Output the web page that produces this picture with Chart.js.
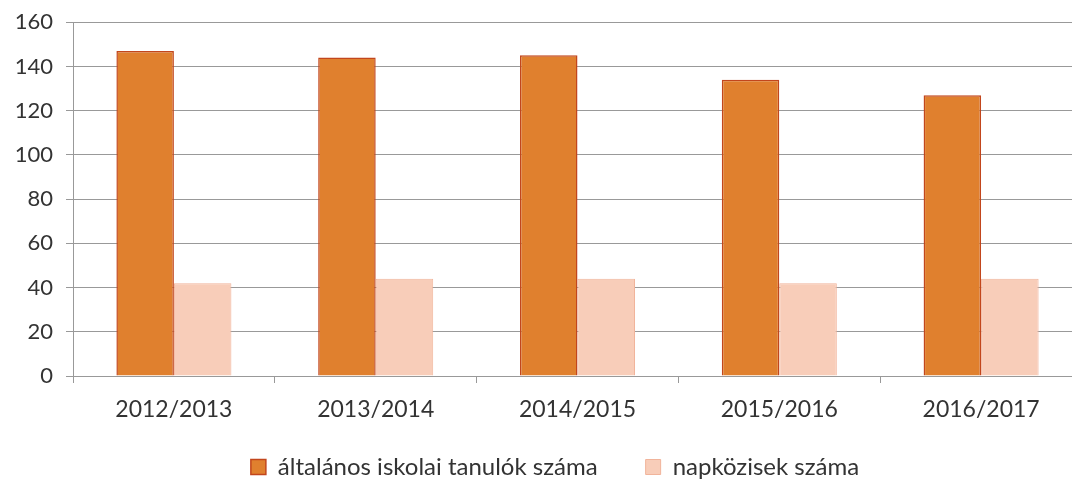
<!DOCTYPE html>
<html>
<head>
<meta charset="utf-8">
<script src="https://cdn.jsdelivr.net/npm/chart.js@4"></script>
<style>
    html, body { margin: 0; padding: 0; background: #fff; overflow: hidden; }
    #wrap { width: 1082px; height: 512px; position: relative; margin-top: -4px; }
</style>
</head>
<body>
<div id="wrap"><canvas id="chart"></canvas></div>
<script>
// tanévek
const categories = ['2012/2013', '2013/2014', '2014/2015', '2015/2016', '2016/2017'];
// általános iskolai tanulók száma
const pupils = [147, 144, 145, 134, 127];
// napközisek száma
const dayCare = [42, 44, 44, 42, 44];
const yTicks = [0, 20, 40, 60, 80, 100, 120, 140, 160];

const seriesNames = ['általános iskolai tanulók száma', 'napközisek száma'];
const fontFamily = 'Lato, "Open Sans", sans-serif';
const textColor = '#333333';
const lineColor = '#999999';

Chart.defaults.font.family = fontFamily;
Chart.defaults.color = textColor;

// a jelmagyarázatot kicsit jobbra és feljebb toljuk
const legendShift = {
    id: 'legendShift',
    afterLayout(chart) {
        const lg = chart.legend;
        lg.left += 14;
        lg.right += 14;
        lg.top -= 19;
        lg.bottom -= 19;
    }
};

const ctx = document.getElementById('chart').getContext('2d');
new Chart(ctx, {
    type: 'bar',
    data: {
        labels: categories,
        datasets: [{
            label: seriesNames[0],
            data: pupils,
            backgroundColor: '#e0802e',
            borderColor: '#c2461c',
            borderWidth: 1.5,
            borderSkipped: 'bottom'
        }, {
            label: seriesNames[1],
            data: dayCare,
            backgroundColor: '#f8cdb9',
            borderColor: '#f1b49b',
            borderWidth: 1,
            borderSkipped: 'bottom'
        }]
    },
    plugins: [legendShift],
    options: {
        responsive: true,
        maintainAspectRatio: false,
        animation: false,
        layout: {
            padding: { top: 13, left: 0, right: 0, bottom: 0 }
        },
        datasets: {
            bar: {
                categoryPercentage: 0.57,
                barPercentage: 1.0
            }
        },
        plugins: {
            tooltip: { enabled: false },
            legend: {
                position: 'bottom',
                labels: {
                    boxWidth: 15,
                    boxHeight: 15,
                    padding: 48,
                    color: textColor,
                    font: { size: 24 }
                }
            }
        },
        scales: {
            x: {
                grid: {
                    offset: true,
                    drawOnChartArea: false,
                    drawTicks: true,
                    tickLength: 7,
                    color: lineColor
                },
                border: { display: true, color: lineColor },
                ticks: {
                    padding: 13,
                    color: textColor,
                    font: { size: 23 }
                },
                afterFit: s => { s.height = 50; }
            },
            y: {
                min: 0,
                max: 160,
                afterBuildTicks: s => { s.ticks = yTicks.map(v => ({ value: v })); },
                grid: {
                    color: lineColor,
                    tickLength: 7
                },
                border: { display: true, color: lineColor },
                ticks: {
                    padding: 13,
                    color: textColor,
                    font: { size: 22 }
                },
                afterFit: s => { s.width = 73; }
            }
        }
    }
});
</script>
</body>
</html>
